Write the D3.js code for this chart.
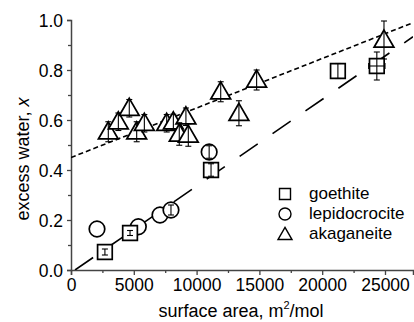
<!DOCTYPE html>
<html><head><meta charset="utf-8">
<script src="https://cdn.jsdelivr.net/npm/d3@7"></script>
<style>
body{margin:0;background:#fff;}
svg{display:block;font-family:"Liberation Sans",Arial,sans-serif;}
</style></head>
<body>
<script>
// ---- data ----
const goethiteX = [2700, 4700, 11150, 21250, 24350];
const goethiteY = [0.072, 0.148, 0.40, 0.796, 0.816];
const goethiteErr = [0.012, 0.01, 0.025, 0.03, 0.056];
const goethiteXErr = [0, 0, 0, 0, 650];

const lepidoX = [2070, 5360, 7085, 7960, 11000];
const lepidoY = [0.164, 0.173, 0.22, 0.24, 0.472];
const lepidoErr = [0, 0, 0, 0.02, 0.025];

const akagX = [2970, 3770, 4640, 5230, 5840, 7620, 8150, 9150, 8620, 9340, 11920, 13370, 14780, 24920];
const akagY = [0.553, 0.593, 0.647, 0.553, 0.587, 0.587, 0.593, 0.613, 0.544, 0.54, 0.713, 0.627, 0.76, 0.92];
const akagErr = [0.04, 0.035, 0.035, 0.04, 0.035, 0.035, 0.03, 0.035, 0.045, 0.045, 0.04, 0.05, 0.04, 0.076];

// fit lines (intercept, slope)
const akagFit = {a: 0.45, b: 1.98e-5};
const goethFit = {x0: 320, b: 3.467e-5};

const xTicks = [0, 5000, 10000, 15000, 20000, 25000];
const yTicks = [0.0, 0.2, 0.4, 0.6, 0.8, 1.0];
const legendLabels = ["goethite", "lepidocrocite", "akaganeite"];

// ---- layout ----
const W = 414, H = 322;
const svg = d3.select("body").append("svg").attr("width", W).attr("height", H);
const x = d3.scaleLinear().domain([0, 27230]).range([71, 413]);
const y = d3.scaleLinear().domain([0, 1]).range([270, 20]);
const axisColor = "#444";

// axes
const xAxis = d3.axisBottom(x).tickValues(xTicks).tickFormat(d3.format("d")).tickSize(5).tickPadding(4);
const xMinor = d3.axisBottom(x).tickValues(d3.range(2500, 27230, 5000)).tickSize(3).tickFormat("");
const yAxis = d3.axisLeft(y).tickValues(yTicks).tickFormat(d3.format(".1f")).tickSize(4).tickPadding(4);
const yMinor = d3.axisLeft(y).tickValues(d3.range(0.1, 1, 0.2)).tickSize(3).tickFormat("");

function styleAxis(g){
  g.select(".domain").attr("stroke", axisColor).attr("stroke-width", 1.5);
  g.selectAll(".tick line").attr("stroke", axisColor).attr("stroke-width", 1.3);
  g.selectAll(".tick text").attr("fill", "#000").style("font-size", "17.5px").style("font-family", "Liberation Sans, Arial, sans-serif");
}
const gx = svg.append("g").attr("transform", "translate(0,270)").call(xAxis).call(styleAxis);
svg.append("g").attr("transform", "translate(0,270)").call(xMinor).call(styleAxis).select(".domain").remove();
const gy = svg.append("g").attr("transform", "translate(71,0)").call(yAxis).call(styleAxis);
svg.append("g").attr("transform", "translate(71,0)").call(yMinor).call(styleAxis).select(".domain").remove();
gy.selectAll(".tick text").attr("dy", "0.36em");

// axis titles
const xt = svg.append("text").attr("x", 241).attr("y", 317).attr("text-anchor", "middle")
  .style("font-size", "18px").attr("fill", "#000");
xt.append("tspan").text("surface area, m");
xt.append("tspan").text("2").style("font-size", "11px").attr("dy", -8);
xt.append("tspan").text("/mol").attr("dy", 8);

const yt = svg.append("text").attr("transform", "translate(29,159) rotate(-90)").attr("text-anchor", "middle")
  .style("font-size", "18px").attr("fill", "#000");
yt.append("tspan").text("excess water, ");
yt.append("tspan").text("x").style("font-style", "italic");

// fit lines
const xMax = x.domain()[1];
const clip = svg.append("clipPath").attr("id", "clip").append("rect")
  .attr("x", 71).attr("y", 20).attr("width", 342).attr("height", 250);
svg.append("line").attr("clip-path", "url(#clip)")
  .attr("x1", x(0)).attr("y1", y(akagFit.a))
  .attr("x2", x(xMax)).attr("y2", y(akagFit.a + akagFit.b * xMax))
  .attr("stroke", "#000").attr("stroke-width", 1.6).attr("stroke-dasharray", "5,3");
svg.append("line").attr("clip-path", "url(#clip)")
  .attr("x1", x(goethFit.x0)).attr("y1", y(0))
  .attr("x2", x(xMax)).attr("y2", y(goethFit.b * (xMax - goethFit.x0)))
  .attr("stroke", "#000").attr("stroke-width", 1.6).attr("stroke-dasharray", "22,18");

// markers
const sym = {
  square: d3.symbol().type(d3.symbolSquare).size(215),
  circle: d3.symbol().type(d3.symbolCircle).size(190),
  triangle: d3.symbol().type(d3.symbolTriangle).size(170)
};
function errBar(g, cx, cy, e, xe){
  const cap = 3;
  if (e > 0) {
    const y1 = y(e + cy), y2 = y(cy - e), px = x(cx);
    g.append("line").attr("x1", px).attr("x2", px).attr("y1", y1).attr("y2", y2);
    g.append("line").attr("x1", px - cap).attr("x2", px + cap).attr("y1", y1).attr("y2", y1);
    g.append("line").attr("x1", px - cap).attr("x2", px + cap).attr("y1", y2).attr("y2", y2);
  }
  if (xe > 0) {
    const x1 = x(cx - xe), x2 = x(cx + xe), py = y(cy);
    g.append("line").attr("x1", x1).attr("x2", x2).attr("y1", py).attr("y2", py);
    g.append("line").attr("x1", x1).attr("x2", x1).attr("y1", py - cap).attr("y2", py + cap);
    g.append("line").attr("x1", x2).attr("x2", x2).attr("y1", py - cap).attr("y2", py + cap);
  }
}
function series(xs, ys, es, xes, symbol, dy){
  const g = svg.append("g");
  xs.forEach((xv, i) => {
    g.append("path").attr("d", symbol())
      .attr("transform", `translate(${x(xv)},${y(ys[i]) + (dy || 0)})`)
      .attr("fill", "#fff").attr("stroke", "#000").attr("stroke-width", 1.7);
    const eg = g.append("g").attr("stroke", "#000").attr("stroke-width", 1.1);
    errBar(eg, xv, ys[i], es[i], xes ? xes[i] : 0);
  });
}
series(akagX, akagY, akagErr, null, sym.triangle, 1.5);
series(lepidoX, lepidoY, lepidoErr, null, sym.circle);
series(goethiteX, goethiteY, goethiteErr, goethiteXErr, sym.square);

// legend
const legSym = [
  d3.symbol().type(d3.symbolSquare).size(121),
  d3.symbol().type(d3.symbolCircle).size(113),
  d3.symbol().type(d3.symbolTriangle).size(85)
];
const leg = svg.append("g");
legendLabels.forEach((lab, i) => {
  const cy = 194 + i * 20;
  leg.append("path").attr("d", legSym[i]()).attr("transform", `translate(285,${cy + (i === 2 ? 1.5 : 0)})`)
    .attr("fill", "none").attr("stroke", "#000").attr("stroke-width", 1.4);
  leg.append("text").attr("x", 309).attr("y", cy + 5).text(lab)
    .style("font-size", "17px").attr("fill", "#000");
});
</script>
</body></html>
